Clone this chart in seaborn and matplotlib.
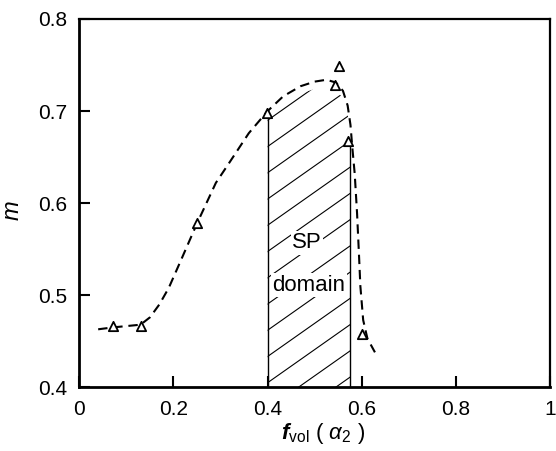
import numpy as np
import pandas as pd
import matplotlib
matplotlib.use("Agg")
import matplotlib.pyplot as plt
from matplotlib.patches import Polygon
import seaborn as sns

# measured points (open triangles)
f_vol = [0.071, 0.131, 0.250, 0.398, 0.543, 0.552, 0.571, 0.601]
m_val = [0.467, 0.467, 0.578, 0.698, 0.728, 0.749, 0.668, 0.458]

# hand-drawn trend curve (dashed)
curve_x = [0.040, 0.070, 0.130, 0.150, 0.170, 0.190, 0.215, 0.250, 0.290, 0.320,
           0.360, 0.400, 0.433, 0.470, 0.500, 0.525, 0.545, 0.560, 0.570, 0.576,
           0.580, 0.585, 0.590, 0.594, 0.597, 0.603, 0.612, 0.628]
curve_y = [0.463, 0.465, 0.468, 0.476, 0.490, 0.508, 0.537, 0.578, 0.622, 0.645,
           0.676, 0.700, 0.716, 0.727, 0.732, 0.734, 0.731, 0.722, 0.706, 0.685,
           0.660, 0.632, 0.589, 0.545, 0.510, 0.473, 0.453, 0.438]

# superplastic domain limits
sp_left, sp_right = 0.40, 0.576

x_ticks = [0, 0.2, 0.4, 0.6, 0.8, 1]
x_ticklabels = ["0", "0.2", "0.4", "0.6", "0.8", "1"]
y_ticks = [0.4, 0.5, 0.6, 0.7, 0.8]
y_ticklabels = ["0.4", "0.5", "0.6", "0.7", "0.8"]

sns.set_style("ticks")
plt.rcParams["font.family"] = ["Liberation Sans", "DejaVu Sans"]
plt.rcParams["mathtext.fontset"] = "custom"
plt.rcParams["mathtext.rm"] = "Liberation Sans"
plt.rcParams["mathtext.it"] = "Liberation Sans:italic"
plt.rcParams["mathtext.bf"] = "Liberation Sans:bold:italic"
for key in ["text.color", "axes.labelcolor", "xtick.color", "ytick.color",
            "axes.edgecolor"]:
    plt.rcParams[key] = "black"

fig = plt.figure(figsize=(5.56, 4.51), dpi=100)
ax = fig.add_axes([0.1427, 0.1412, 0.8466, 0.8167])

pts = pd.DataFrame({"f_vol": f_vol, "m": m_val})
trend = pd.DataFrame({"f_vol": curve_x, "m": curve_y})

# hatched SP domain bounded by the trend curve
cx = np.array(curve_x)
cy = np.array(curve_y)
inside = (cx > sp_left) & (cx < sp_right)
poly_pts = [(sp_left, 0.4), (sp_left, 0.698)]
poly_pts += list(zip(cx[inside], cy[inside] - 0.008))
poly_pts += [(sp_right, 0.664), (sp_right, 0.4)]
clip = Polygon(poly_pts, closed=True, facecolor="none", edgecolor="none",
               transform=ax.transData)
ax.add_patch(clip)
slope = 0.36
for b in np.arange(0.20, 0.80, 0.0285):
    xs = np.array([sp_left - 0.05, sp_right + 0.05])
    hl, = ax.plot(xs, b + slope * (xs - sp_left) - 0.08, color="black", lw=0.8)
    hl.set_clip_path(clip)

ax.plot([sp_left, sp_left], [0.4, 0.698], color="black", lw=1.0)
ax.plot([sp_right, sp_right], [0.4, 0.664], color="black", lw=1.0)

sns.lineplot(data=trend, x="f_vol", y="m", ax=ax, color="black", lw=1.5,
             sort=False, estimator=None, dashes=False)
ax.lines[-1].set_dashes((4.5, 2.8))

sns.scatterplot(data=pts, x="f_vol", y="m", ax=ax, marker="^", s=45,
                facecolor="white", edgecolor="black", linewidth=1.3, zorder=5)

txt_kw = dict(fontsize=16, ha="center", va="center", zorder=6, color="black",
              bbox=dict(facecolor="white", edgecolor="none", pad=1.0))
ax.text(0.484, 0.557, "SP", **txt_kw)
ax.text(0.488, 0.511, "domain", **txt_kw)

ax.set_xlim(0, 1)
ax.set_ylim(0.4, 0.8)
ax.set_xticks(x_ticks)
ax.set_xticklabels(x_ticklabels)
ax.set_yticks(y_ticks)
ax.set_yticklabels(y_ticklabels)
ax.tick_params(direction="in", length=8, width=1.5, labelsize=15, pad=9,
               colors="black")
for side in ["left", "bottom"]:
    ax.spines[side].set_linewidth(2.0)
for side in ["top", "right"]:
    ax.spines[side].set_linewidth(1.6)
    ax.spines[side].set_visible(True)

ax.set_xlabel(r"$\mathbf{f}_{\mathrm{vol}}$ ( $\alpha_2$ )", fontsize=16)
ax.set_ylabel(r"$m$", fontsize=17)
ax.xaxis.set_label_coords(0.518, -0.092)
ax.yaxis.set_label_coords(-0.118, 0.48)

fig.savefig("out.png", dpi=100)
